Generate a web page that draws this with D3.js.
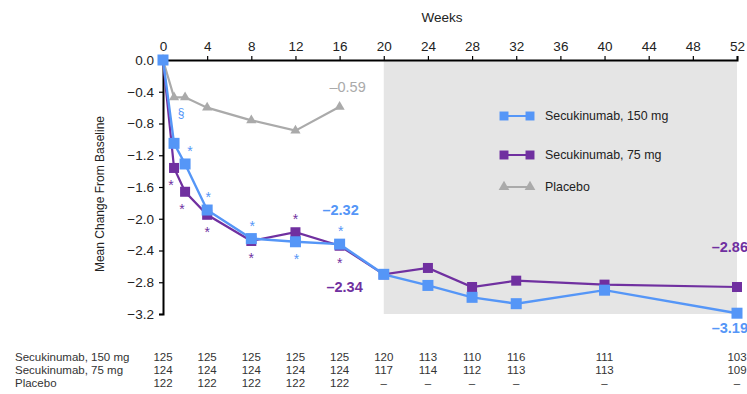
<!DOCTYPE html>
<html>
<head>
<meta charset="utf-8">
<script src="https://cdn.jsdelivr.net/npm/d3@7"></script>
<style>
  body { margin: 0; background: #fff; }
  text { font-family: "Liberation Sans", Arial, sans-serif; }
</style>
</head>
<body>
<script>
// data
var weeks = [0, 1, 2, 4, 8, 12, 16, 20, 24, 28, 32, 40, 52];
var sec150 = [0, -1.05, -1.31, -1.89, -2.25, -2.29, -2.32, -2.70, -2.84, -2.99, -3.07, -2.90, -3.19];
var sec75 = [0, -1.36, -1.66, -1.95, -2.28, -2.17, -2.34, -2.70, -2.62, -2.86, -2.78, -2.83, -2.86];
var placeboWeeks = [0, 1, 2, 4, 8, 12, 16];
var placebo = [0, -0.47, -0.47, -0.60, -0.76, -0.89, -0.59];
var xTicks = [0, 4, 8, 12, 16, 20, 24, 28, 32, 36, 40, 44, 48, 52];
var yTicks = [0, -0.4, -0.8, -1.2, -1.6, -2.0, -2.4, -2.8, -3.2];

// patients at risk table
var tableWeeks = [0, 4, 8, 12, 16, 20, 24, 28, 32, 40, 52];
var n150 = ["125", "125", "125", "125", "125", "120", "113", "110", "116", "111", "103"];
var n75 = ["124", "124", "124", "124", "124", "117", "114", "112", "113", "113", "109"];
var nPbo = ["122", "122", "122", "122", "122", "–", "–", "–", "–", "–", "–"];

// significance marks: week, position (1 above / -1 below)
var star150 = [[2, 1], [4, 1], [8, 1], [12, -1], [16, 1]];
var star75 = [[1, -1], [2, -1], [4, -1], [8, -1], [12, 1], [16, -1]];

var blue = "#5596f7", purple = "#7030a0", grey = "#aaaaaa";

var svg = d3.select("body").append("svg")
            .attr("width", 747)
            .attr("height", 394);

var x = d3.scaleLinear().domain([0, 52]).range([163, 737]);
var y = d3.scaleLinear().domain([0, -3.2]).range([60, 314]);

// shaded extension period
svg.append("rect")
   .attr("x", x(20)).attr("y", y(0))
   .attr("width", x(52) - x(20)).attr("height", y(-3.2) - y(0))
   .style("fill", "#e5e5e5");

// axes
var xAxis = svg.append("g")
               .attr("transform", "translate(0," + y(0) + ")")
               .call(d3.axisTop(x).tickValues(xTicks).tickSize(4).tickPadding(5)
                       .tickFormat(d3.format("d")));
var yAxis = svg.append("g")
               .attr("transform", "translate(" + x(0) + ",0)")
               .call(d3.axisLeft(y).tickValues(yTicks).tickSize(4).tickPadding(5)
                       .tickFormat(d3.format(".1f")));

[xAxis, yAxis].forEach(function(a) {
  a.select(".domain").style("stroke", "#000").style("stroke-width", 2);
  a.selectAll(".tick line").style("stroke", "#000").style("stroke-width", 1.2);
  a.selectAll(".tick text").style("font-size", "13.5px").style("fill", "#222")
   .style("font-family", "Liberation Sans, Arial, sans-serif");
});

svg.append("text")
   .attr("x", 442).attr("y", 22)
   .attr("text-anchor", "middle")
   .style("font-size", "13.5px").style("fill", "#222")
   .text("Weeks");

svg.append("text")
   .attr("transform", "translate(104," + 194 + ") rotate(-90)")
   .attr("text-anchor", "middle")
   .style("font-size", "12px").style("fill", "#222")
   .text("Mean Change From Baseline");

var line = d3.line()
             .x(function(d) { return x(d[0]); })
             .y(function(d) { return y(d[1]); });

function zipped(ws, vs) { return ws.map(function(w, i) { return [w, vs[i]]; }); }

var pPts = zipped(placeboWeeks, placebo);
var pts75 = zipped(weeks, sec75);
var pts150 = zipped(weeks, sec150);

// placebo
svg.append("path").datum(pPts).attr("d", line)
   .style("fill", "none").style("stroke", grey).style("stroke-width", 2.2);
svg.selectAll(".tri").data(pPts).enter().append("path")
   .attr("class", "tri")
   .attr("transform", function(d) { return "translate(" + x(d[0]) + "," + y(d[1]) + ")"; })
   .attr("d", d3.symbol().type(d3.symbolTriangle).size(45))
   .style("fill", grey);

// 75 mg
svg.append("path").datum(pts75).attr("d", line)
   .style("fill", "none").style("stroke", purple).style("stroke-width", 2.2);
svg.selectAll(".sq75").data(pts75).enter().append("rect")
   .attr("class", "sq75")
   .attr("x", function(d) { return x(d[0]) - 5; })
   .attr("y", function(d) { return y(d[1]) - 5; })
   .attr("width", 10).attr("height", 10)
   .style("fill", purple);

// 150 mg
svg.append("path").datum(pts150).attr("d", line)
   .style("fill", "none").style("stroke", blue).style("stroke-width", 2.4);
svg.selectAll(".sq150").data(pts150).enter().append("rect")
   .attr("class", "sq150")
   .attr("x", function(d) { return x(d[0]) - 5.5; })
   .attr("y", function(d) { return y(d[1]) - 5.5; })
   .attr("width", 11).attr("height", 11)
   .style("fill", blue);

// stars
function valAt(ws, vs, w) { return vs[ws.indexOf(w)]; }
svg.selectAll(".st150").data(star150).enter().append("text")
   .attr("x", function(d) { return x(d[0]) + (d[0] < 4 ? 5 : 1); })
   .attr("y", function(d) { return y(valAt(weeks, sec150, d[0])) + (d[1] > 0 ? -8 : 22); })
   .attr("text-anchor", "middle")
   .style("font-size", "14px").style("fill", blue)
   .text("*");
svg.selectAll(".st75").data(star75).enter().append("text")
   .attr("x", function(d) { return x(d[0]) + (d[0] < 4 ? -3 : 0); })
   .attr("y", function(d) { return y(valAt(weeks, sec75, d[0])) + (d[1] > 0 ? -8 : 22); })
   .attr("text-anchor", "middle")
   .style("font-size", "14px").style("fill", purple)
   .text("*");
svg.append("text")
   .attr("x", x(1) + 7).attr("y", y(-0.72))
   .attr("text-anchor", "middle")
   .style("font-size", "12px").style("fill", blue)
   .text("§");

// end labels
svg.append("text").attr("x", x(16) + 8).attr("y", 92).attr("text-anchor", "middle")
   .style("font-size", "14.5px").style("fill", grey).text("–0.59");
svg.append("text").attr("x", x(16) + 1).attr("y", 215).attr("text-anchor", "middle")
   .style("font-size", "14.5px").style("font-weight", "bold").style("fill", blue).text("–2.32");
svg.append("text").attr("x", x(16) + 5).attr("y", 292).attr("text-anchor", "middle")
   .style("font-size", "14.5px").style("font-weight", "bold").style("fill", purple).text("–2.34");
svg.append("text").attr("x", 748).attr("y", 252).attr("text-anchor", "end")
   .style("font-size", "14.5px").style("font-weight", "bold").style("fill", purple).text("–2.86");
svg.append("text").attr("x", 748).attr("y", 333).attr("text-anchor", "end")
   .style("font-size", "14.5px").style("font-weight", "bold").style("fill", blue).text("–3.19");

// legend
var legend = [
  { label: "Secukinumab, 150 mg", color: blue, shape: "sq", y: 116 },
  { label: "Secukinumab, 75 mg", color: purple, shape: "sq", y: 155 },
  { label: "Placebo", color: grey, shape: "tri", y: 187 }
];
var lg = svg.selectAll(".lg").data(legend).enter().append("g").attr("class", "lg");
lg.append("line")
  .attr("x1", 504).attr("x2", 530)
  .attr("y1", function(d) { return d.y; }).attr("y2", function(d) { return d.y; })
  .style("stroke", function(d) { return d.color; }).style("stroke-width", 2);
[504, 530].forEach(function(px) {
  lg.append("path")
    .attr("transform", function(d) { return "translate(" + px + "," + d.y + ")"; })
    .attr("d", function(d) {
      return d3.symbol().type(d.shape === "sq" ? d3.symbolSquare : d3.symbolTriangle)
               .size(d.shape === "sq" ? 80 : 50)();
    })
    .style("fill", function(d) { return d.color; });
});
lg.append("text")
  .attr("x", 545).attr("y", function(d) { return d.y + 4; })
  .style("font-size", "12.4px").style("fill", "#222")
  .text(function(d) { return d.label; });

// at-risk table
var rows = [
  { label: "Secukinumab, 150 mg", vals: n150, y: 361 },
  { label: "Secukinumab, 75 mg", vals: n75, y: 374 },
  { label: "Placebo", vals: nPbo, y: 387 }
];
rows.forEach(function(r) {
  svg.append("text").attr("x", 15).attr("y", r.y)
     .style("font-size", "11.5px").style("fill", "#333").text(r.label);
  svg.selectAll(null).data(r.vals).enter().append("text")
     .attr("x", function(d, i) { return x(tableWeeks[i]); })
     .attr("y", r.y)
     .attr("text-anchor", "middle")
     .style("font-size", "11.5px").style("fill", "#333")
     .text(function(d) { return d; });
});
</script>
</body>
</html>
